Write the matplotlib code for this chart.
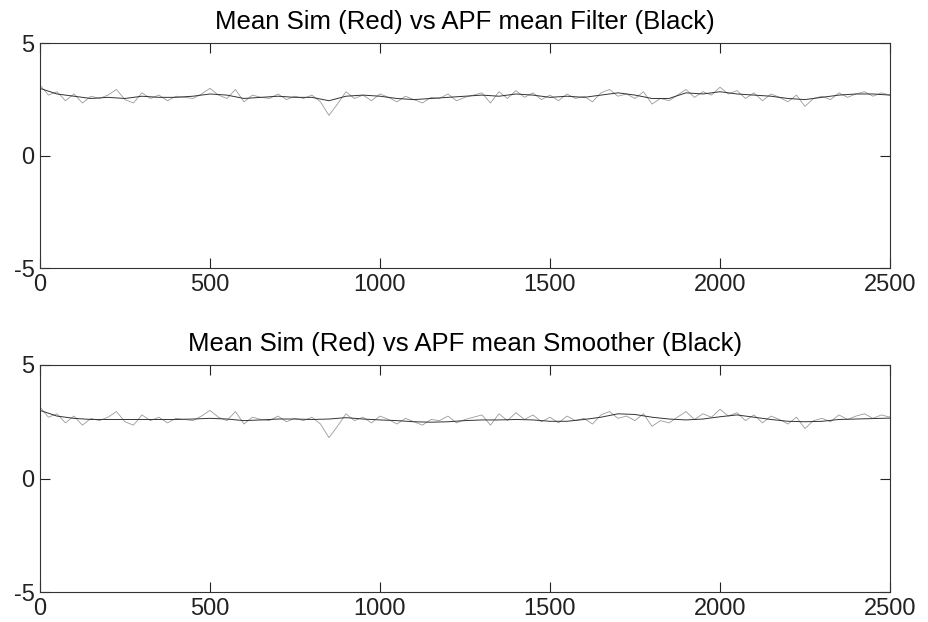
import numpy as np
import matplotlib
matplotlib.use("Agg")
import matplotlib.pyplot as plt

plt.rcParams['font.family'] = ['Liberation Sans', 'DejaVu Sans']
plt.rcParams['axes.unicode_minus'] = False

titles = ["Mean Sim (Red) vs APF mean Filter (Black)",
          "Mean Sim (Red) vs APF mean Smoother (Black)"]
x_ticks = [0, 500, 1000, 1500, 2000, 2500]
y_ticks = [-5, 0, 5]

sim = [3.15, 2.70, 2.85, 2.45, 2.75, 2.35, 2.65, 2.55, 2.70, 2.95,
       2.50, 2.35, 2.80, 2.55, 2.70, 2.45, 2.65, 2.60, 2.55, 2.75,
       3.00, 2.70, 2.55, 2.95, 2.40, 2.70, 2.60, 2.55, 2.75, 2.50,
       2.65, 2.55, 2.70, 2.40, 1.80, 2.30, 2.85, 2.55, 2.70, 2.45,
       2.75, 2.60, 2.40, 2.65, 2.50, 2.35, 2.60, 2.55, 2.75, 2.45,
       2.60, 2.70, 2.80, 2.35, 2.85, 2.55, 2.90, 2.60, 2.80, 2.50,
       2.70, 2.45, 2.75, 2.55, 2.65, 2.40, 2.80, 2.95, 2.65, 2.75,
       2.55, 2.85, 2.30, 2.55, 2.45, 2.70, 2.95, 2.60, 2.85, 2.70,
       3.05, 2.75, 2.90, 2.55, 2.80, 2.45, 2.75, 2.60, 2.40, 2.70,
       2.20, 2.55, 2.65, 2.50, 2.80, 2.60, 2.75, 2.85, 2.65, 2.80,
       2.70]

apf_filter = [3.00, 2.75, 2.65, 2.55, 2.60, 2.55, 2.65, 2.60, 2.60, 2.65,
              2.75, 2.70, 2.55, 2.60, 2.65, 2.60, 2.60, 2.45, 2.65, 2.70,
              2.65, 2.55, 2.50, 2.55, 2.60, 2.65, 2.70, 2.65, 2.75, 2.70,
              2.60, 2.65, 2.60, 2.70, 2.80, 2.70, 2.55, 2.55, 2.80, 2.75,
              2.85, 2.75, 2.70, 2.65, 2.55, 2.50, 2.60, 2.70, 2.75, 2.75,
              2.70]

apf_smoother = [3.00, 2.75, 2.65, 2.60, 2.60, 2.60, 2.60, 2.60, 2.60, 2.62,
                2.65, 2.62, 2.55, 2.58, 2.62, 2.62, 2.60, 2.62, 2.68, 2.62,
                2.58, 2.55, 2.50, 2.48, 2.50, 2.55, 2.58, 2.58, 2.60, 2.58,
                2.52, 2.52, 2.60, 2.70, 2.85, 2.82, 2.70, 2.62, 2.58, 2.62,
                2.72, 2.80, 2.70, 2.60, 2.52, 2.50, 2.52, 2.60, 2.62, 2.64,
                2.66]

t_sim = np.linspace(0, 2500, len(sim))
t_f = np.linspace(0, 2500, len(apf_filter))
t_s = np.linspace(0, 2500, len(apf_smoother))

fig = plt.figure(figsize=(9.29, 6.22), dpi=100)
positions = [[0.043, 0.5686, 0.915, 0.3617], [0.043, 0.0482, 0.915, 0.365]]
black_series = [apf_filter, apf_smoother]
black_t = [t_f, t_s]

for i in range(2):
    ax = fig.add_axes(positions[i])
    ax.plot(t_sim, sim, color='#9a9a9a', lw=0.6)
    ax.plot(black_t[i], black_series[i], color='#333333', lw=0.7)
    ax.set_xlim(0, 2500)
    ax.set_ylim(-5, 5)
    ax.set_xticks(x_ticks)
    ax.set_yticks(y_ticks)
    ax.tick_params(direction='in', length=7, width=0.8, top=True, right=True,
                   labelsize=17, pad=4, colors='#222222')
    for s in ax.spines.values():
        s.set_linewidth(0.8)
        s.set_color('#333333')
    ax.set_title(titles[i], fontsize=18.5, pad=10)

fig.savefig("out.png", dpi=100)
